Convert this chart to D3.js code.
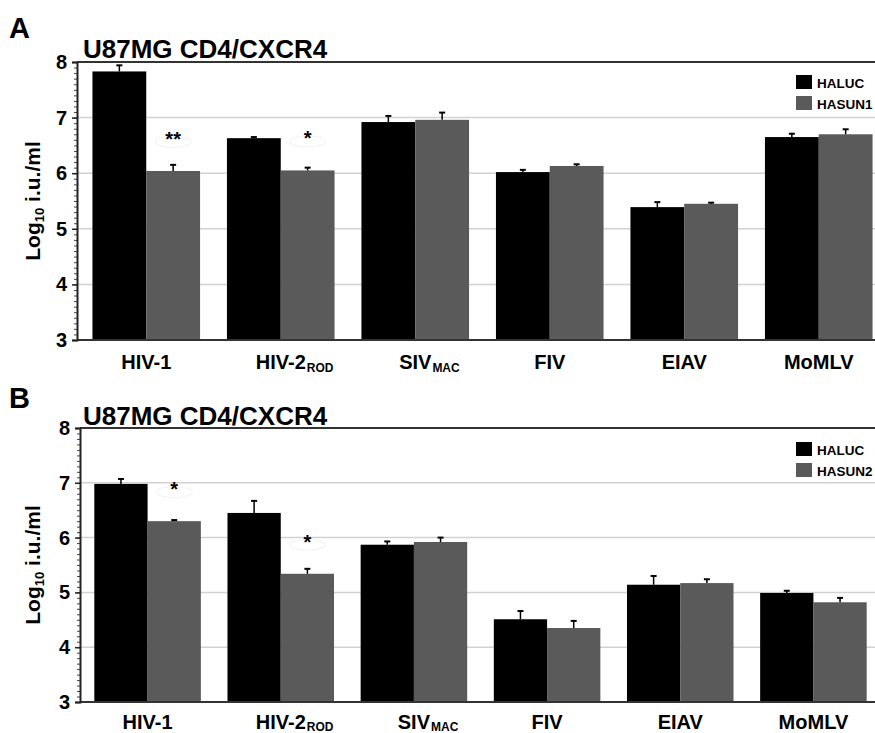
<!DOCTYPE html>
<html>
<head>
<meta charset="utf-8">
<script src="https://cdn.jsdelivr.net/npm/d3@7"></script>
<style>
  body { margin: 0; background: #fff; }
  svg { display: block; }
  text { font-family: "Liberation Sans", Arial, Helvetica, sans-serif; font-weight: bold; fill: #000; }
</style>
</head>
<body>
<svg id="chart" width="875" height="733"></svg>
<script>
// Virus pseudotypes on the x axis (main label + subscript)
const categories = ["HIV-1", "HIV-2", "SIV", "FIV", "EIAV", "MoMLV"];
const categorySubscripts = ["", "ROD", "MAC", "", "", ""];
const yTickValues = [3, 4, 5, 6, 7, 8];

// Panel A: HALUC vs HASUN1 (log10 infectious units / ml), upper error
const panelASeries = ["HALUC", "HASUN1"];
const panelAHaluc = [7.83, 6.63, 6.92, 6.02, 5.39, 6.65];
const panelAHalucErr = [0.11, 0.02, 0.11, 0.04, 0.09, 0.06];
const panelAHasun = [6.04, 6.05, 6.96, 6.13, 5.45, 6.70];
const panelAHasunErr = [0.11, 0.05, 0.13, 0.03, 0.02, 0.09];
const panelAStars = ["**", "*", "", "", "", ""];

// Panel B: HALUC vs HASUN2
const panelBSeries = ["HALUC", "HASUN2"];
const panelBHaluc = [6.98, 6.45, 5.87, 4.51, 5.14, 4.99];
const panelBHalucErr = [0.09, 0.22, 0.06, 0.15, 0.16, 0.04];
const panelBHasun = [6.30, 5.34, 5.92, 4.35, 5.17, 4.82];
const panelBHasunErr = [0.02, 0.09, 0.08, 0.13, 0.07, 0.08];
const panelBStars = ["*", "*", "", "", "", ""];

const seriesColors = ["#000000", "#5a5a5a"];

const panels = [
  { letter: "A", title: "U87MG CD4/CXCR4", series: panelASeries,
    values: [panelAHaluc, panelAHasun], errors: [panelAHalucErr, panelAHasunErr], stars: panelAStars,
    top: 62, bottom: 340, axisX: 77, range: [79, 886], letterY: 38, titleY: 58, legendY: 75, labelDy: 29, subDy: 3 },
  { letter: "B", title: "U87MG CD4/CXCR4", series: panelBSeries,
    values: [panelBHaluc, panelBHasun], errors: [panelBHalucErr, panelBHasunErr], stars: panelBStars,
    top: 428, bottom: 702, axisX: 80, range: [81, 880], letterY: 408, titleY: 425, legendY: 442, labelDy: 26.5, subDy: 2 }
];

const svg = d3.select("#chart");
const W = 875;

panels.forEach(p => {
  const g = svg.append("g");
  const y = d3.scaleLinear().domain([3, 8]).range([p.bottom, p.top]);
  const x = d3.scaleBand().domain(categories).range(p.range).paddingInner(0.2).paddingOuter(0.1);
  const xs = d3.scaleBand().domain([0, 1]).range([0, x.bandwidth()]);

  // horizontal gridlines
  g.selectAll("line.grid")
    .data(yTickValues.filter(v => v > 3 && v < 8))
    .join("line")
    .attr("x1", p.axisX).attr("x2", W)
    .attr("y1", d => y(d)).attr("y2", d => y(d))
    .attr("stroke", "#d2d2d2").attr("stroke-width", 1.5);

  // faint annotation ellipses near significance marks
  categories.forEach((c, i) => {
    if (!p.stars[i]) return;
    g.append("ellipse")
      .attr("cx", x(c) + xs(1) + xs.bandwidth() / 2)
      .attr("cy", y(p.values[1][i]) - 29)
      .attr("rx", 18).attr("ry", 5.5)
      .attr("fill", "none").attr("stroke", "#f3f3f3").attr("stroke-width", 1.2);
  });

  // bars
  p.values.forEach((vals, s) => {
    g.selectAll(null)
      .data(categories)
      .join("rect")
      .attr("x", (c) => x(c) + xs(s))
      .attr("width", xs.bandwidth())
      .attr("y", (c, i) => y(vals[i]))
      .attr("height", (c, i) => y(3) - y(vals[i]))
      .attr("fill", seriesColors[s]);
  });

  // upper error bars
  p.values.forEach((vals, s) => {
    categories.forEach((c, i) => {
      const cx = x(c) + xs(s) + xs.bandwidth() / 2;
      const yt = y(vals[i] + p.errors[s][i]);
      g.append("line").attr("x1", cx).attr("x2", cx)
        .attr("y1", y(vals[i])).attr("y2", yt)
        .attr("stroke", "#000").attr("stroke-width", 1.5);
      g.append("line").attr("x1", cx - 3).attr("x2", cx + 3)
        .attr("y1", yt).attr("y2", yt)
        .attr("stroke", "#000").attr("stroke-width", 2);
    });
  });

  // significance asterisks
  categories.forEach((c, i) => {
    if (!p.stars[i]) return;
    g.append("text")
      .attr("x", x(c) + xs(1) + xs.bandwidth() / 2)
      .attr("y", y(p.values[1][i]) - 25)
      .attr("text-anchor", "middle")
      .attr("font-size", 20)
      .text(p.stars[i]);
  });

  // plot frame lines (top and bottom)
  g.append("line").attr("x1", p.axisX).attr("x2", W)
    .attr("y1", y(8)).attr("y2", y(8))
    .attr("stroke", "#333").attr("stroke-width", 2);
  g.append("line").attr("x1", p.axisX).attr("x2", W)
    .attr("y1", y(3)).attr("y2", y(3))
    .attr("stroke", "#333").attr("stroke-width", 2);

  // y axis: minor ticks, then labelled major ticks
  const minor = g.append("g").attr("transform", `translate(${p.axisX},0)`)
    .call(d3.axisLeft(y).tickValues(d3.range(30, 81).map(v => v / 10)).tickSize(3).tickFormat(""));
  minor.select(".domain").remove();
  minor.selectAll("line").attr("stroke", "#444").attr("stroke-width", 1);

  const yAxis = g.append("g").attr("transform", `translate(${p.axisX},0)`)
    .call(d3.axisLeft(y).tickValues(yTickValues).tickSize(5).tickPadding(5).tickFormat(d3.format("d")));
  yAxis.select(".domain").attr("stroke", "#222").attr("stroke-width", 2);
  yAxis.selectAll("line").attr("stroke", "#222").attr("stroke-width", 1.5);
  yAxis.selectAll("text").attr("font-size", 20).attr("font-family", null);

  // y axis title
  const yt = g.append("text")
    .attr("transform", `translate(40,${(p.top + p.bottom) / 2}) rotate(-90)`)
    .attr("text-anchor", "middle")
    .attr("font-size", 21);
  yt.append("tspan").text("Log");
  yt.append("tspan").attr("font-size", 13).attr("dy", 4).text("10");
  yt.append("tspan").attr("dy", -4).text(" i.u./ml");

  // x category labels with subscripts
  categories.forEach((c, i) => {
    const cx = x(c) + x.bandwidth() / 2;
    const t = g.append("text")
      .attr("x", cx).attr("y", p.bottom + p.labelDy)
      .attr("text-anchor", "middle")
      .attr("font-size", 20)
      .text(c);
    if (categorySubscripts[i]) {
      const w = t.node().getComputedTextLength();
      g.append("text")
        .attr("x", cx + w / 2 + 1).attr("y", p.bottom + p.labelDy + p.subDy)
        .attr("font-size", 12)
        .text(categorySubscripts[i]);
    }
  });

  // panel letter and title
  g.append("text").attr("x", 9).attr("y", p.letterY).attr("font-size", 29).text(p.letter);
  g.append("text").attr("x", 83).attr("y", p.titleY).attr("font-size", 26).text(p.title);

  // legend
  p.series.forEach((name, s) => {
    g.append("rect")
      .attr("x", 796).attr("y", p.legendY + s * 21)
      .attr("width", 16).attr("height", 14)
      .attr("fill", seriesColors[s]);
    g.append("text")
      .attr("x", 817).attr("y", p.legendY + 13 + s * 21)
      .attr("font-size", 13.5)
      .text(name);
  });
});
</script>
</body>
</html>
